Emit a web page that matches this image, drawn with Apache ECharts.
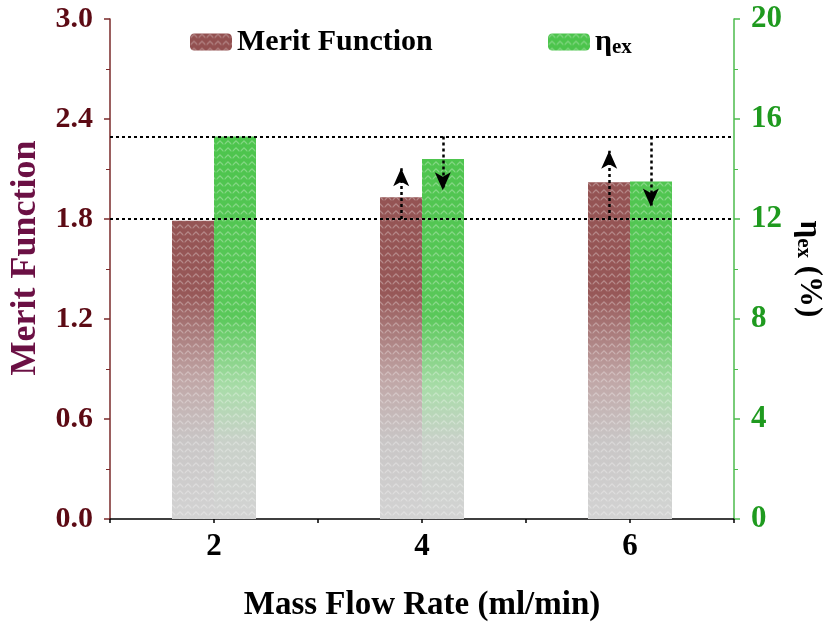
<!DOCTYPE html>
<html><head><meta charset="utf-8">
<script src="https://cdn.jsdelivr.net/npm/echarts@6/dist/echarts.min.js"></script>
<style>html,body{margin:0;padding:0;background:#fff}#c{width:826px;height:628px}</style>
</head><body><div id="c"></div>
<script>
// ---- data ----
const categories = ['2', '4', '6'];
const meritValues = [1.79, 1.93, 2.02];
const etaValues = [15.3, 14.4, 13.5];
// reference lines: merit level (left axis) and eta level (right axis)
const meritRef = 1.8;
const etaRef = 15.3;
// arrows: [x position on flow-rate scale, from value, to value]
const upArrows = [[3.8, 1.8, 2.105], [5.8, 1.8, 2.21]];     // left axis (merit)
const downArrows = [[4.2, 15.3, 13.15], [6.2, 15.3, 12.5]]; // right axis (eta)

const serif = '"Liberation Serif", "Times New Roman", serif';
const chevron = 'path://M0,5 L5,0 L10,5 L10,7.5 L5,2.5 L0,7.5 Z';
function grad(stops) {
  // global (pixel) vertical gradient
  return new echarts.graphic.LinearGradient(0, 130, 0, 519, stops.map(s => ({ offset: s[0], color: s[1] })), true);
}
const meritFill = grad([[0, '#925050'], [0.42, '#975858'], [0.64, '#c0a6a6'], [0.8, '#c9c6c6'], [1, '#d3d3d3']]);
const etaFill = grad([[0, '#4cc44c'], [0.48, '#5ac85a'], [0.66, '#a8dca8'], [0.8, '#c9d1c9'], [1, '#d3d3d3']]);
const decal = { symbol: chevron, symbolSize: 1, dashArrayX: [8, 0], dashArrayY: [5, 2], rotation: 0, color: 'rgba(255,255,255,0.3)' };

const chart = echarts.init(document.getElementById('c'), null, { renderer: 'canvas' });
chart.setOption({
  animation: false,
  aria: { enabled: false },
  grid: { left: 110, right: 92, top: 19, bottom: 109, containLabel: false, outerBoundsMode: 'none' },
  legend: [
    { left: 185, top: 22, itemWidth: 42, itemHeight: 17, data: ['Merit Function'],
      textStyle: { fontFamily: serif, fontWeight: 'bold', fontSize: 30, color: '#000' } },
    { left: 543, top: 22, itemWidth: 42, itemHeight: 17, data: ['ηex'],
      formatter: () => '{a|η}{b|ex}',
      textStyle: { fontFamily: serif, fontWeight: 'bold', fontSize: 30, color: '#000',
        rich: { a: { fontFamily: serif, fontWeight: 'bold', fontSize: 30, color: '#000' },
                b: { fontFamily: serif, fontSize: 21, color: '#000', padding: [12, 0, 0, 0] } } } }
  ],
  xAxis: [
    { type: 'category', data: categories, position: 'bottom',
      name: 'Mass Flow Rate (ml/min)', nameLocation: 'middle', nameGap: 70,
      nameTextStyle: { fontFamily: serif, fontWeight: 'bold', fontSize: 33, color: '#000' },
      axisLine: { lineStyle: { color: '#000', width: 1.5 } },
      axisTick: { alignWithLabel: true, length: 7, lineStyle: { color: '#000', width: 1.5 } },
      axisLabel: { fontFamily: serif, fontWeight: 'bold', fontSize: 31, color: '#000', margin: 12 },
      splitLine: { show: false } },
    { type: 'value', min: 1, max: 7, interval: 1, position: 'bottom',
      axisLine: { show: false }, axisLabel: { show: false }, splitLine: { show: false },
      axisTick: { show: true, length: 4, lineStyle: { color: '#000', width: 1.5 } } }
  ],
  yAxis: [
    { type: 'value', min: 0, max: 3.0, interval: 0.6, position: 'left',
      name: 'Merit Function', nameLocation: 'middle', nameGap: 66,
      nameTextStyle: { fontFamily: serif, fontWeight: 'bold', fontSize: 36, color: '#6b1044', padding: [0, 0, 0, 22] },
      axisLine: { show: true, lineStyle: { color: '#7a2a2a', width: 1.5 } },
      axisTick: { show: true, length: 6, lineStyle: { color: '#7a2a2a', width: 1.5 } },
      minorTick: { show: true, splitNumber: 2, length: 4, lineStyle: { color: '#7a2a2a' } },
      axisLabel: { fontFamily: serif, fontWeight: 'bold', fontSize: 30, color: '#5c0a14', margin: 17,
        formatter: v => v.toFixed(1) },
      splitLine: { show: false } },
    { type: 'value', min: 0, max: 20, interval: 4, position: 'right',
      name: '{a|η}{b|ex} (%)', nameLocation: 'middle', nameGap: 36, nameRotate: -90,
      nameTextStyle: { fontFamily: serif, fontWeight: 'bold', fontSize: 31, color: '#000', padding: [20, 0, 0, 0],
        rich: { a: { fontFamily: serif, fontWeight: 'bold', fontSize: 31, color: '#000' },
                b: { fontFamily: serif, fontSize: 21, color: '#000', padding: [12, 0, 0, 0] } } },
      axisLine: { show: true, lineStyle: { color: '#4cbb4c', width: 1.5 } },
      axisTick: { show: true, length: 6, lineStyle: { color: '#4cbb4c', width: 1.5 } },
      minorTick: { show: true, splitNumber: 2, length: 4, lineStyle: { color: '#4cbb4c' } },
      axisLabel: { fontFamily: serif, fontWeight: 'bold', fontSize: 31, color: '#1f9a1f', margin: 17 },
      splitLine: { show: false } }
  ],
  series: [
    { name: 'Merit Function', type: 'bar', xAxisIndex: 0, yAxisIndex: 0, data: meritValues,
      barWidth: 42, barGap: '0%',
      itemStyle: { color: meritFill, decal: decal },
      markLine: { silent: true, symbol: 'none', label: { show: false },
        lineStyle: { type: [3, 3], color: '#000', width: 2 }, data: [{ yAxis: meritRef }] } },
    { name: 'ηex', type: 'bar', xAxisIndex: 0, yAxisIndex: 1, data: etaValues,
      barWidth: 42, barGap: '0%',
      itemStyle: { color: etaFill, decal: decal },
      markLine: { silent: true, symbol: 'none', label: { show: false },
        lineStyle: { type: [3, 3], color: '#000', width: 2 }, data: [{ yAxis: etaRef }] } },
    { name: 'upArrows', type: 'line', xAxisIndex: 1, yAxisIndex: 0, data: [], showSymbol: false,
      markLine: { silent: true, symbol: ['none', 'arrow'], symbolSize: [12, 18], label: { show: false },
        lineStyle: { type: [3, 3], color: '#000', width: 2.5 },
        data: upArrows.map(a => [{ coord: [a[0], a[1]] }, { coord: [a[0], a[2]] }]) } },
    { name: 'downArrows', type: 'line', xAxisIndex: 1, yAxisIndex: 1, data: [], showSymbol: false,
      markLine: { silent: true, symbol: ['none', 'arrow'], symbolSize: [12, 18], label: { show: false },
        lineStyle: { type: [3, 3], color: '#000', width: 2.5 },
        data: downArrows.map(a => [{ coord: [a[0], a[1]] }, { coord: [a[0], a[2]] }]) } }
  ]
});
</script></body></html>
